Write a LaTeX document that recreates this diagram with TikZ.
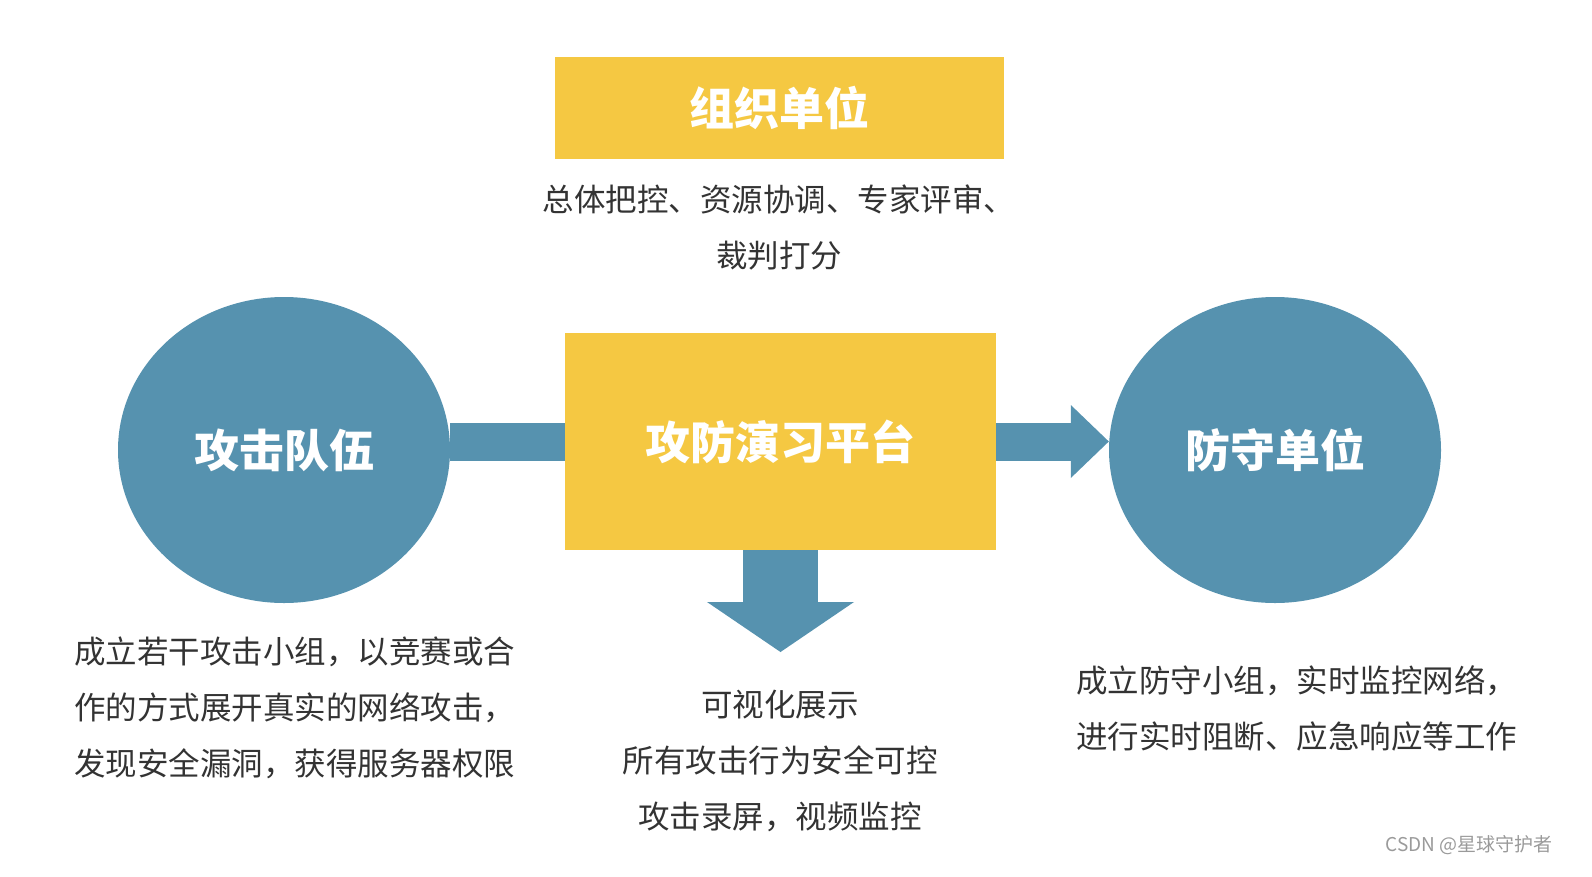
\documentclass[tikz,border=0pt]{standalone}
\usepackage{fontspec}
\setmainfont{Noto Sans CJK SC}
\usetikzlibrary{shapes.geometric,arrows.meta}
\definecolor{boxyellow}{HTML}{F5C842}
\definecolor{teamblue}{HTML}{5692AF}
\definecolor{bodygray}{HTML}{333333}
\definecolor{markgray}{HTML}{9A9A9A}
\tikzset{>=latex}
\tikzset{
  yellowbox/.style={rectangle,fill=boxyellow,inner sep=0pt,text=white,font=\fontsize{45}{50}\selectfont\bfseries},
  bluecircle/.style={ellipse,fill=teamblue,inner sep=0pt,minimum width=332pt,minimum height=306pt,text=white,font=\fontsize{45}{50}\selectfont\bfseries},
  bodytext/.style={text=bodygray,inner sep=0pt,font=\fontsize{31.5}{56}\selectfont},
  fatbar/.style={draw=teamblue,line width=38pt},
}

\begin{document}
\begin{tikzpicture}[x=1pt,y=-1pt]
\useasboundingbox (0,0) rectangle (1592,876);

%%% Organizer on top
\node[yellowbox,minimum width=449pt,minimum height=102pt] (org) at (779.5,108) {组织单位};
\node[bodytext,align=center] (orgnote) at (779,228) {总体把控、资源协调、专家评审、\\裁判打分};

%%% Platform in the middle
\node[yellowbox,minimum width=431pt,minimum height=217pt] (platform) at (780.5,441.5) {攻防演习平台};

%%% Attack team and defense unit
\node[bluecircle] (team) at (284,450) {攻击队伍};
\node[bluecircle] (defense) at (1275,450) {防守单位};

%%% Fat arrows
\coordinate (lbar) at (team.east |- platform.west);
\coordinate (rtip) at (defense.west |- platform.east);
\coordinate (showtip) at (780.5,652);
\draw[fatbar] (lbar) -- (platform.west);
\draw[fatbar,-{Triangle[length=38pt 0,width=73pt 0,line width=0pt]}] (platform.east) -- (rtip);
\draw[fatbar,line width=75pt,-{Triangle[length=50pt 0,width=147pt 0,line width=0pt]}] (platform.south) -- (showtip);

%%% Notes below
\node[bodytext,align=left,anchor=west] (teamnote) at (74,708) {成立若干攻击小组，以竞赛或合\\作的方式展开真实的网络攻击，\\发现安全漏洞，获得服务器权限};
\node[bodytext,align=center] (shownote) at (780,761) {可视化展示\\所有攻击行为安全可控\\攻击录屏，视频监控};
\node[bodytext,align=left,anchor=west] (defnote) at (1076,708) {成立防守小组，实时监控网络，\\进行实时阻断、应急响应等工作};

%%% Watermark
\node[text=markgray,inner sep=0pt,anchor=east,font=\fontsize{19}{21}\selectfont] (mark) at (1553,845) {CSDN @星球守护者};

\end{tikzpicture}
\end{document}
